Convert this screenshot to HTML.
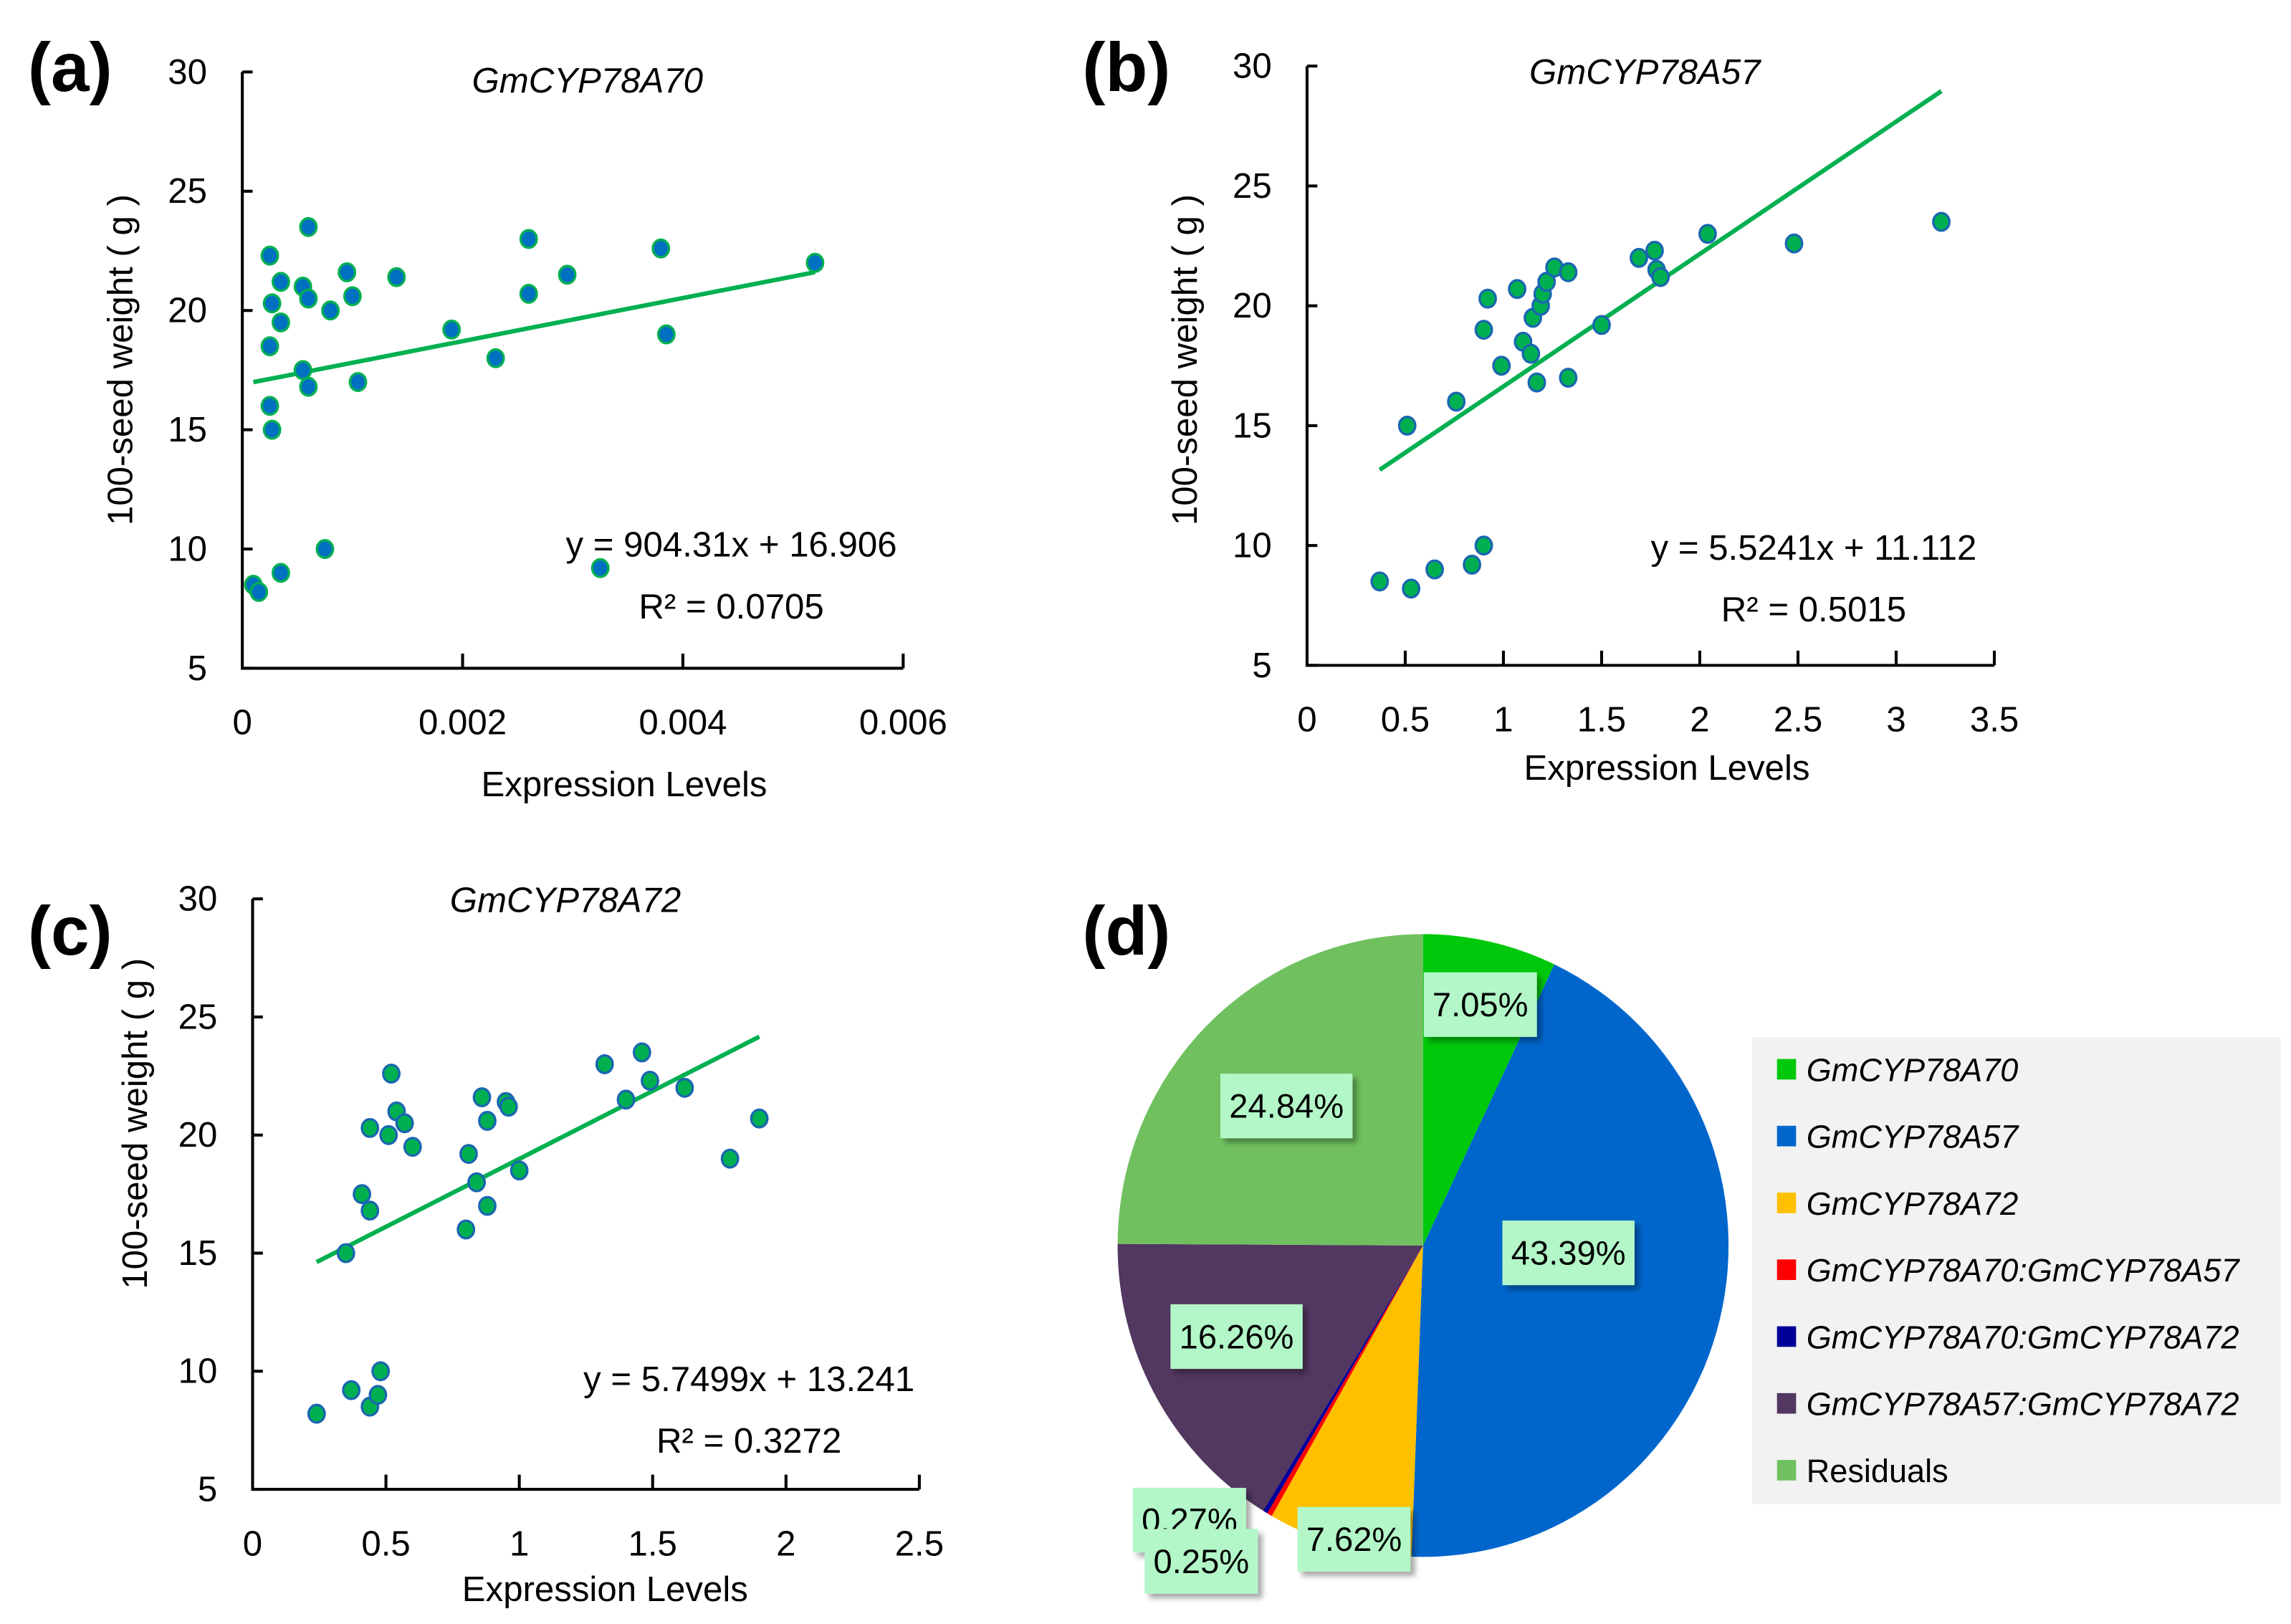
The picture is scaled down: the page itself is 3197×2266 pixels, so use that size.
<!DOCTYPE html>
<html><head><meta charset="utf-8"><style>
html,body{margin:0;padding:0;background:#fff;}
svg{display:block;font-family:"Liberation Sans",Arial,sans-serif;}
</style></head><body>
<svg id="fig" width="3197" height="2266" viewBox="0 0 1560 1105.7" preserveAspectRatio="none" xmlns="http://www.w3.org/2000/svg">
<defs><filter id="sh" x="-20%" y="-20%" width="150%" height="150%"><feDropShadow dx="3" dy="3" stdDeviation="2" flood-color="#000" flood-opacity="0.35"/></filter></defs>
<g id="gA"></g>
<g id="gB"></g>
<g id="gC"></g>
<g id="gD"></g>
</svg>
<script>
// Panel (a)
const aX = [0.0001,0.00015,0.00025,0.00027,0.00025,0.00025,0.00027,0.00035,0.00035,0.00035,0.00055,0.00055,0.0006,0.0006,0.0006,0.0008,0.00075,0.00095,0.001,0.00105,0.0014,0.0019,0.0023,0.0026,0.0026,0.00295,0.00325,0.0038,0.00385,0.0052];
const aY = [8.5,8.2,22.3,20.3,18.5,16,15,21.2,19.5,9,21,17.5,23.5,20.5,16.8,20,10,21.6,20.6,17,21.4,19.2,18,23,20.7,21.5,9.2,22.6,19,22];
const aXTicks = ["0","0.002","0.004","0.006"];
const aSlope = 904.31, aInt = 16.906;
// Panel (b)
const bX = [0.37,0.53,0.51,0.65,0.76,0.84,0.9,0.9,0.92,0.99,1.07,1.1,1.14,1.15,1.17,1.19,1.2,1.22,1.26,1.33,1.33,1.5,1.69,1.77,1.78,1.8,2.04,2.48,3.23];
const bY = [8.5,8.2,15,9,16,9.2,10,19,20.3,17.5,20.7,18.5,18,19.5,16.8,20,20.5,21,21.6,21.4,17,19.2,22,22.3,21.5,21.2,23,22.6,23.5];
const bXTicks = ["0","0.5","1","1.5","2","2.5","3","3.5"];
const bSlope = 5.5241, bInt = 11.112;
// Panel (c)
const cX = [0.24,0.37,0.44,0.47,0.48,0.35,0.41,0.44,0.44,0.52,0.51,0.54,0.57,0.6,0.8,0.81,0.84,0.86,0.88,0.88,0.95,0.96,1.0,1.32,1.4,1.46,1.49,1.62,1.79,1.9];
const cY = [8.2,9.2,8.5,9,10,15,17.5,16.8,20.3,22.6,20,21,20.5,19.5,16,19.2,18,21.6,20.6,17,21.4,21.2,18.5,23,21.5,23.5,22.3,22,19,20.7];
const cXTicks = ["0","0.5","1","1.5","2","2.5"];
const cSlope = 5.7499, cInt = 13.241;
const yTicks = ["5","10","15","20","25","30"];
// Panel (d)
const pieLabels = ["GmCYP78A70","GmCYP78A57","GmCYP78A72","GmCYP78A70:GmCYP78A57","GmCYP78A70:GmCYP78A72","GmCYP78A57:GmCYP78A72","Residuals"];
const pieValues = [7.05,43.39,7.62,0.27,0.25,16.26,24.84];
const pieColors = ["#00c80a","#0066cc","#ffc000","#ff0000","#000099","#523760","#70c060"];

const NS="http://www.w3.org/2000/svg";
function mk(p,tag,at,txt){const e=document.createElementNS(NS,tag);for(const k in at)e.setAttribute(k,at[k]);if(txt!==undefined)e.textContent=txt;p.appendChild(e);return e;}

function scatter(g,cfg){
  const sx=v=>cfg.x0+(v-cfg.xmin)/(cfg.xmax-cfg.xmin)*(cfg.x1-cfg.x0);
  const sy=v=>cfg.y0-(v-5)/25*(cfg.y0-cfg.y1);
  const lab=mk(g,"text",{x:cfg.lx,y:cfg.ly,"font-size":47,"font-weight":"bold"},cfg.label);
  
  
  const ax=mk(g,"path",{d:`M${cfg.x0} ${cfg.y1}V${cfg.y0}H${cfg.x1}`,stroke:"#000","stroke-width":2,fill:"none"});
  
  
  yTicks.forEach((t,i)=>{const y=sy(+t);
    mk(g,"line",{x1:cfg.x0,x2:cfg.x0+7,y1:y,y2:y,stroke:"#000","stroke-width":2});
    const tx=mk(g,"text",{x:cfg.x0-24,y:y+8,"font-size":24,"text-anchor":"end"},t);
    
    });
  cfg.xt.forEach((t,i)=>{const x=sx(+t);
    if(i>0)mk(g,"line",{x1:x,x2:x,y1:cfg.y0,y2:cfg.y0-10,stroke:"#000","stroke-width":2});
    const tx=mk(g,"text",{x:x,y:cfg.y0+45,"font-size":24,"text-anchor":"middle"},t);
    
    });
  const xa=mk(g,"text",{x:cfg.xlx,y:cfg.xly,"font-size":24,"text-anchor":"middle"},"Expression Levels");
  
  
  const ya=mk(g,"text",{x:0,y:0,"font-size":24,"text-anchor":"middle",transform:`translate(${cfg.ylx},${cfg.yly}) rotate(-90)`},"100-seed weight ( g )");
  
  
  const ti=mk(g,"text",{x:cfg.tx,y:cfg.ty,"font-size":24,"font-style":"italic","text-anchor":"middle"},cfg.title);
  
  
  const xs=cfg.xs,ys=cfg.ys;
  const mn=Math.min(...xs),mx=Math.max(...xs);
  const tl=mk(g,"line",{x1:sx(mn),y1:sy(cfg.m*mn+cfg.b),x2:sx(mx),y2:sy(cfg.m*mx+cfg.b),stroke:"#00b050","stroke-width":3});
  
  
  xs.forEach((v,i)=>{const c=mk(g,"ellipse",{cx:sx(v),cy:sy(ys[i]),rx:5.5,ry:6,fill:cfg.fill,stroke:cfg.stroke,"stroke-width":1.6});
    
    });
  const eq=mk(g,"text",{x:cfg.ex,y:cfg.ey,"font-size":24,"text-anchor":"middle"},cfg.eq);
  
  
  const r2=mk(g,"text",{x:cfg.ex,y:cfg.ey+42,"font-size":24,"text-anchor":"middle"},cfg.r2);
  
  
}
scatter(document.getElementById("gA"),{label:"(a)",lx:19,ly:62,x0:165,x1:615,xmin:0,xmax:0.006,y0:455,y1:49,xt:aXTicks,xlx:425,xly:542,ylx:90,yly:245,tx:400,ty:63,title:"GmCYP78A70",xs:aX,ys:aY,m:aSlope,b:aInt,fill:"#0070c0",stroke:"#00b050",ex:498,ey:379,eq:"y = 904.31x + 16.906",r2:"R² = 0.0705"});
scatter(document.getElementById("gB"),{label:"(b)",lx:737,ly:62,x0:890,x1:1358,xmin:0,xmax:3.5,y0:453,y1:45,xt:bXTicks,xlx:1135,xly:531,ylx:815,yly:245,tx:1120,ty:57,title:"GmCYP78A57",xs:bX,ys:bY,m:bSlope,b:bInt,fill:"#00b050",stroke:"#1a66b0",ex:1235,ey:381,eq:"y = 5.5241x + 11.112",r2:"R² = 0.5015"});
scatter(document.getElementById("gC"),{label:"(c)",lx:19,ly:650,x0:172,x1:626,xmin:0,xmax:2.5,y0:1014,y1:612,xt:cXTicks,xlx:412,xly:1090,ylx:100,yly:765,tx:385,ty:621,title:"GmCYP78A72",xs:cX,ys:cY,m:cSlope,b:cInt,fill:"#00b050",stroke:"#1a66b0",ex:510,ey:947,eq:"y = 5.7499x + 13.241",r2:"R² = 0.3272"});

(function(){
  const g=document.getElementById("gD");
  const lab=mk(g,"text",{x:737,y:650,"font-size":47,"font-weight":"bold"},"(d)");
  
  
  const cx=969,cy=848,rx=208,ry=212;
  const tot=pieValues.reduce((a,b)=>a+b,0);
  let a=0;
  pieValues.forEach((v,i)=>{
    const a0=a/tot*2*Math.PI,a1=(a+v)/tot*2*Math.PI;a+=v;
    const x0=cx+rx*Math.sin(a0),y0=cy-ry*Math.cos(a0),x1=cx+rx*Math.sin(a1),y1=cy-ry*Math.cos(a1);
    const p=mk(g,"path",{d:`M${cx} ${cy}L${x0} ${y0}A${rx} ${ry} 0 ${a1-a0>Math.PI?1:0} 1 ${x1} ${y1}Z`,fill:pieColors[i]});
    
    
  });
  const lblPos=[[1008,684],[1068,853],[922,1048],[810,1035],[818,1063],[842,910],[876,753]];
  pieValues.forEach((v,i)=>{
    const [x,y]=lblPos[i];const t=v.toFixed(2)+"%";const w=t.length*13+12;
    const r=mk(g,"rect",{x:x-w/2,y:y-22,width:w,height:44,fill:"#b3f7c8",filter:"url(#sh)"});
    
    
    const tx=mk(g,"text",{x:x,y:y+8,"font-size":23,"text-anchor":"middle"},t);
    
    
  });
  const lg=mk(g,"rect",{x:1193,y:706,width:360,height:318,fill:"#f2f2f2"});
  
  
  pieLabels.forEach((l,i)=>{
    const y=728+i*45.5;
    const s=mk(g,"rect",{x:1210,y:y-7,width:13,height:14,fill:pieColors[i]});
    
    
    const t=mk(g,"text",{x:1230,y:y+8,"font-size":22,"font-style":i<6?"italic":"normal"},l);
    
    
  });
})();
</script>
</body></html>
